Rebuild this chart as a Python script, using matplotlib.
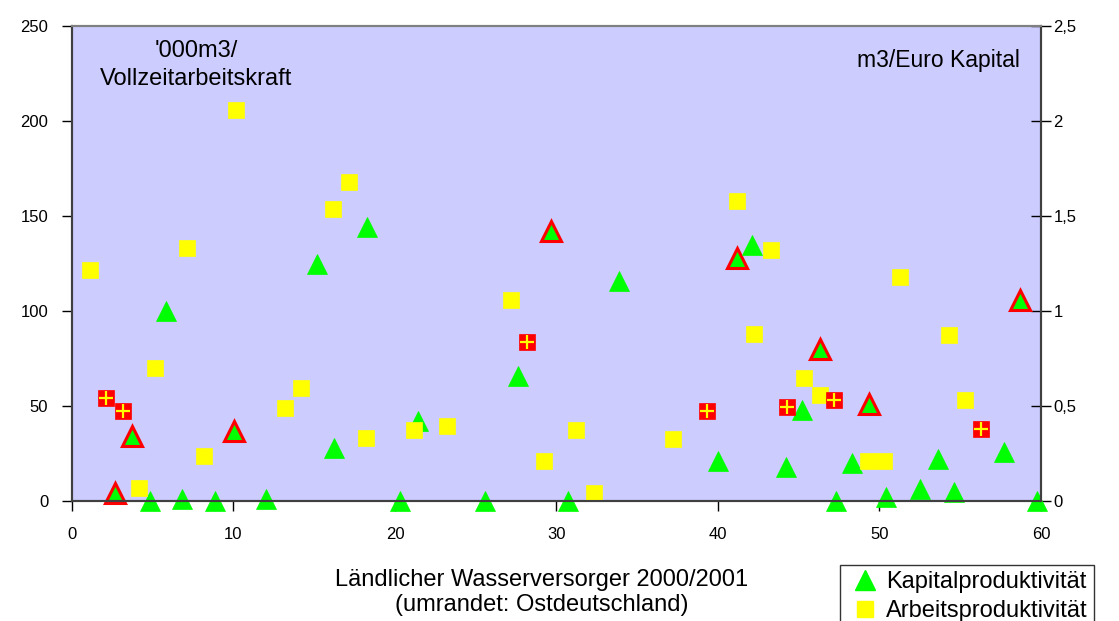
import matplotlib
matplotlib.use("Agg")
import matplotlib.pyplot as plt
from matplotlib.lines import Line2D

plt.rcParams['font.family'] = ['Liberation Sans', 'DejaVu Sans']

# ── Kapitalproduktivität (m3/Euro Kapital, rechte Achse) ──
kap_x = [2.66, 3.72, 4.83, 5.82, 6.81, 8.85, 10.03, 12.0, 15.17, 16.2,
         18.27, 20.3, 21.4, 25.6, 27.6, 29.66, 30.7, 33.9, 40.0, 41.2,
         42.1, 44.2, 45.2, 46.3, 47.3, 48.3, 49.35, 50.4, 52.5, 53.6,
         54.6, 57.7, 58.7, 59.75]
kap_y = [0.04, 0.34, 0.0, 1.0, 0.01, 0.0, 0.37, 0.01, 1.25, 0.28,
         1.44, 0.0, 0.42, 0.0, 0.66, 1.42, 0.0, 1.16, 0.21, 1.28,
         1.35, 0.18, 0.48, 0.80, 0.0, 0.20, 0.51, 0.02, 0.065, 0.22,
         0.05, 0.26, 1.06, 0.0]
kap_ost = [True, True, False, False, False, False, True, False, False, False,
           False, False, False, False, False, True, False, False, False, True,
           False, False, False, True, False, False, True, False, False, False,
           False, False, True, False]

# ── Arbeitsproduktivität ('000m3/Vollzeitarbeitskraft, linke Achse) ──
arb_x = [1.11, 2.1, 3.16, 4.15, 5.14, 7.12, 8.17, 10.15, 13.2, 14.2,
         16.16, 17.15, 18.2, 21.2, 23.2, 27.2, 28.2, 29.2, 31.2, 32.3,
         37.2, 39.3, 41.2, 42.2, 43.3, 44.3, 45.3, 46.3, 47.2, 49.3,
         50.3, 51.3, 54.3, 55.3, 56.3]
arb_y = [121.6, 54.2, 47.4, 6.8, 70, 133, 23.7, 206, 49, 59.5,
         153.7, 168, 33, 37.4, 39.5, 106, 83.7, 21, 37.4, 4.2,
         32.6, 47.4, 158, 88, 132, 49.5, 64.7, 55.8, 53, 21,
         21, 118, 87.4, 53, 38]
arb_ost = [False, True, True, False, False, False, False, False, False, False,
           False, False, False, False, False, False, True, False, False, False,
           False, True, False, False, False, True, False, False, True, False,
           False, False, False, False, True]

left_ticks = [0, 50, 100, 150, 200, 250]
right_ticks = [0, 0.5, 1, 1.5, 2, 2.5]
right_labels = ["0", "0,5", "1", "1,5", "2", "2,5"]
x_ticks = [0, 10, 20, 30, 40, 50, 60]

green = "#00FF00"
yellow = "#FFFF00"
red = "#FF0000"
bg = "#CCCCFF"

fig = plt.figure(figsize=(11.19, 6.21), dpi=100)
ax2 = fig.add_axes([0.0643, 0.1932, 0.8660, 0.7649])
ax = ax2.twinx()
ax.yaxis.tick_left()
ax2.yaxis.tick_right()
ax.set_zorder(ax2.get_zorder() + 1)
ax.patch.set_visible(False)
ax2.set_facecolor(bg)

# triangles (right axis)
for x, y, ost in zip(kap_x, kap_y, kap_ost):
    ax2.plot(x, y, marker="^", ms=14, color=green,
             mec=red if ost else green, mew=2.2 if ost else 0.5,
             linestyle="none", clip_on=False)

# squares (left axis)
for x, y, ost in zip(arb_x, arb_y, arb_ost):
    if ost:
        ax.plot(x, y, marker="s", ms=11, color=red, mec=red, mew=0.5,
                linestyle="none", clip_on=False)
        ax.plot(x, y, marker="+", ms=10, color=yellow, mew=1.6,
                linestyle="none", clip_on=False)
    else:
        ax.plot(x, y, marker="s", ms=11, color=yellow, mec=yellow, mew=0.5,
                linestyle="none", clip_on=False)

ax.set_xlim(0, 60)
ax.set_ylim(0, 250)
ax2.set_ylim(0, 2.5)

ax.set_yticks(left_ticks)
ax.set_yticklabels([str(t) for t in left_ticks])
ax2.set_yticks(right_ticks)
ax2.set_yticklabels(right_labels)
ax2.set_xticks(x_ticks)
ax2.set_xticklabels([str(t) for t in x_ticks])

ax.tick_params(axis="y", direction="out", length=7, width=1, labelsize=12, pad=10)
ax2.tick_params(axis="y", direction="inout", length=14, width=1, labelsize=12, pad=2)
ax2.tick_params(axis="x", direction="out", length=7, width=1, labelsize=12, pad=12)

for a in (ax, ax2):
    for side in ("left", "right", "bottom"):
        a.spines[side].set_color("#404040")
        a.spines[side].set_linewidth(1.5)
    a.spines["top"].set_color("#808080")
    a.spines["top"].set_linewidth(1.5)

ax2.text(0.128, 0.918, "'000m3/\nVollzeitarbeitskraft", transform=ax2.transAxes,
         ha="center", va="center", fontsize=17, linespacing=1.3)
ax2.text(0.978, 0.928, "m3/Euro Kapital", transform=ax2.transAxes,
         ha="right", va="center", fontsize=16.5)

fig.text(0.484, 0.046, "Ländlicher Wasserversorger 2000/2001\n(umrandet: Ostdeutschland)",
         ha="center", va="center", fontsize=17, linespacing=1.15)

handles = [
    Line2D([], [], marker="^", ms=15, color=green, linestyle="none"),
    Line2D([], [], marker="s", ms=11, color=yellow, linestyle="none"),
]
leg = fig.legend(handles, ["Kapitalproduktivität", "Arbeitsproduktivität"],
                 loc="upper left", bbox_to_anchor=(0.751, 0.090),
                 frameon=True, fancybox=False, fontsize=17, handlelength=1.6,
                 handletextpad=0.1, borderpad=0.25, labelspacing=0.3,
                 borderaxespad=0)
leg.get_frame().set_edgecolor("black")
leg.get_frame().set_linewidth(1)

fig.savefig("out.png", dpi=100)
